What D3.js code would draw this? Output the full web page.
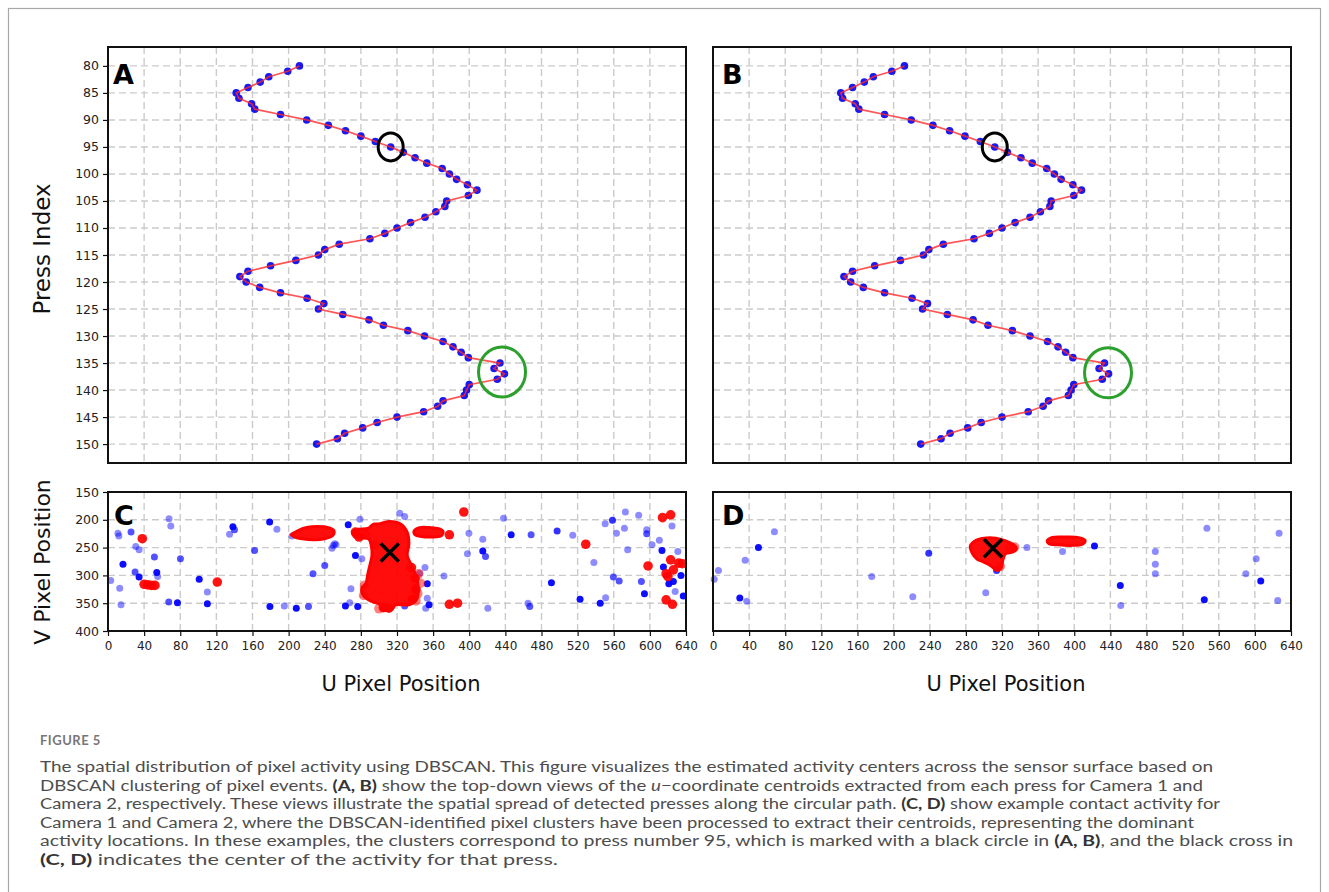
<!DOCTYPE html>
<html><head><meta charset="utf-8">
<script src="https://cdn.jsdelivr.net/npm/d3@7"></script>
<style>
body{margin:0;background:#fff;}
svg{display:block;}
</style></head>
<body>
<svg id="chart" width="1329" height="892"></svg>
<script>
// ================= DATA =================
const pressIndex = [80,81,82,83,84,85,86,87,88,89,90,91,92,93,94,95,96,97,98,99,100,101,102,103,104,105,106,107,108,109,110,111,112,113,114,115,116,117,118,119,120,121,122,123,124,125,126,127,128,129,130,131,132,133,134,135,136,137,138,139,140,141,142,143,144,145,146,147,148,149,150];
// u-coordinate centroids per press, Camera 1 (panel A)
const uCam1 = [212,199,178,168.5,155,142,145,159,162.5,191,220,244,263,280,296,313,327,340,353,370,378,386,398,408.5,399,375,373,363,351,335,320,306.5,290,256,240,233,208,180,155,146,153,168,191,220.5,239,233,260,289,305,332,350.5,371,382,391,399,434,427.5,439,431,400,397,394.5,371,365,349.5,320,298,282,262,254,231];
// u-coordinate centroids per press, Camera 2 (panel B)
const uCam2 = [212,198,177.5,167.5,154.5,141.5,143.5,157.5,161.5,190,219.5,243.5,262,279,296,312,326,341,353.5,369.5,378,385.5,398.5,408,399.5,374.5,373,362.5,351,334.5,320,306,289,255,239,233,207.5,179,154.5,145,152.5,166.5,190,220.5,237.5,232,259.5,288,304.5,331.5,351,370.5,382,390.5,398.5,433.5,427.5,438,431,399.5,396.5,393.5,371.5,365.5,349,320,297,282,262.5,252.5,230];

const pressTicks = [80,85,90,95,100,105,110,115,120,125,130,135,140,145,150];
const uTicks = [0,40,80,120,160,200,240,280,320,360,400,440,480,520,560,600,640];
const vTicks = [150,200,250,300,350,400];

// highlighted press 95 (black circle) and turning region (green circle)
const blackCircleA = [313, 95];
const blackCircleB = [312, 95];
const greenCircleA = [436.3, 136.65];
const greenCircleB = [437.4, 136.8];

// Panel C: noise events [u, v, strength]
const cBlue = [
 [67.6,198,0],[69.5,211,0],[11,224,0],[12,229,0],[25.5,222,0.5],[30.7,248,0],[34.4,254,0],[16.6,280,1],[30,294,0.5],[34.4,303,1],
 [54,295,1],[55,302,0],[51.4,267,0.5],[80.2,270,0.5],[3,309,0],[13,323,0],[14.4,353,0],[67.3,348,0.5],[76.9,349,1],[101,307,1],
 [110,330,0],[110,351,1],[138.3,212.6,1],[134.6,226,0],[140,218,0.5],[162.3,255,0.5],[179,204,1],[187,217,0],[179.3,356,1],[195.2,355,0],
 [208.5,359,1],[222,356,0.5],[203.7,229,0],[252.5,245,0],[248,251,0],[240,282,0.5],[227,297,0.5],[266,209,1],[274,264,1],[281,270,0],
 [279,199,0],[269,324,0],[267.6,349,0],[262.9,355,1],[276.5,356,1],[323,188,0],[328.5,194,0],[438,197,0],[399.6,224,0],[415,235,0],
 [415,256,1],[418,266,0.5],[398,261,0],[446.4,227,1],[468.5,227,0.5],[497.3,220,0.7],[514.6,228,0],[538,277,0],[558.6,201,0.7],[550.5,207,0],
 [572.9,186,0],[587.6,192,0],[563,224,0],[571.8,215,0],[596.5,218,0],[596.5,225,0.5],[602.4,245,0],[610.5,237,0],[613.4,255,1],[624.5,211,0],
 [631,257,0],[615,285,1],[634.4,300,1],[626,311,1],[621,315,1],[628,329,0],[637,337,1],[594,333,1],[590.6,311,0.5],[559.6,303,0.5],
 [566,310,0.5],[575.4,254,0],[491,313,1],[522.7,343,1],[545,350,1],[551,340,0],[465,350,0],[467,356,0.5],[420.6,359,0],[351,286,0],
 [345,296,0],[353.5,315,1],[372,301,0],[353.5,341,0],[355.5,353,1],[351.8,359,0],[328.5,355,0.5],[249.5,246,0],[251,243,0]
];
// Panel C: clustered (red) events
const cRed = [
 [38,234],[40,316],[44,317],[48,318],[52,318],[121,312],[394,186],[378,227],[529,244],[598,283],
 [614,196],[623,191],[623,272],[632,278],[636,279],[626,290],[618,297],[620,302],[618,344],[625,352],[378,352],[387,350],
 [305,358],[311,359],[274,222],[278,231],[336,286],[340,305],[341,325],[337,343]
];
const cRedFaint = [[344,297],[346,314],[343,333],[341,346],[296,245],[300,360],[285,226],[283,336],[284,318]];
// dense DBSCAN clusters in C (outlines)
const cBlobMain = [[299.7,207.7],[310.9,203],[323.9,207.7],[331.3,222.5],[333.2,243.3],[331.3,264],[336.9,284.8],[341.4,302.6],[343.6,326.3],[341.4,344],[333.2,353],[318.3,353],[314.6,360.7],[303.4,361.9],[301.6,353],[292.3,347],[283,337],[281,323],[285.6,314.4],[287.8,296.7],[290.4,278.9],[292.3,264],[291.5,246.3],[288.6,234.4],[273.7,231.4],[270.7,222.5],[275.5,217.8],[288.6,214.8],[294.1,207.7]];
const cClusterLeft = [[203,227],[210,220],[220,214],[232,212],[244,214],[250,219],[249,228],[240,234],[228,236],[215,234],[207,231]];
const cClusterRight = [[339,220],[345,214],[356,214],[366,216],[371,221],[369,229],[358,231],[347,230],[340,227]];
const cCross = [312, 259];

// Panel D
const dBlue = [
 [68,221.6,0],[50.3,249.8,1],[35.6,272.6,0],[6,291,0],[1.3,307,0],[29.7,340.6,1],[37.4,346.4,0],[175.8,302,0],[238.9,260,0.7],[221.2,338.6,0],
 [302,331,0],[314,291,0.7],[347.6,250,0],[387,257,0],[422.4,247,1],[451,318,1],[451.5,354,0],[489.8,257,0],[489.8,280,0],[489.8,297,0],
 [546.9,215,0],[544,344,1],[590,297,0],[601.4,270,0],[606.5,310,1],[626.8,224,0],[625.3,345,0]
];
const dRedFaint = [[328,250],[334,249],[318,284]];
const dBlob = [[285,247],[290,238],[300,233],[313,233],[324,238],[332,244],[336,251],[332,258],[324,261],[321,272],[319,287],[314,291],[308,283],[300,276],[292,270],[287,260]];
const dClusterRight = [[370,238],[375,232],[390,231],[405,232],[412,237],[409,244],[396,246],[382,245],[372,243]];
const dCross = [310, 251];

// ================= DRAWING =================
const svg = d3.select('#chart');
const FONT = 'DejaVu Sans, sans-serif';

const xL = d3.scaleLinear().domain([0,640]).range([108,686]);
const xR = d3.scaleLinear().domain([0,640]).range([713,1291]);
const yTop = d3.scaleLinear().domain([76.5,153.5]).range([47,463]);
const yBot = d3.scaleLinear().domain([150,400]).range([492,631]);

// outer border
svg.append('rect').attr('x',8.5).attr('y',8.5).attr('width',1312).attr('height',900)
  .attr('fill','none').attr('stroke','#a8a8a8').attr('stroke-width',1.2);

const gridU = uTicks.filter(d => d > 0 && d < 640);

function grid(g, x, y, yVals){
  g.selectAll('.gx').data(gridU).join('line')
    .attr('x1', d=>x(d)).attr('x2', d=>x(d))
    .attr('y1', y.range()[0]).attr('y2', y.range()[1])
    .attr('stroke','#cbcbcb').attr('stroke-width',1.4).attr('stroke-dasharray','7,4');
  g.selectAll('.gy').data(yVals).join('line')
    .attr('y1', d=>y(d)).attr('y2', d=>y(d))
    .attr('x1', x.range()[0]).attr('x2', x.range()[1])
    .attr('stroke','#cbcbcb').attr('stroke-width',1.4).attr('stroke-dasharray','7,4');
}
function frame(g, x, y){
  g.append('rect').attr('x', x.range()[0]).attr('y', y.range()[0])
   .attr('width', x.range()[1]-x.range()[0]).attr('height', y.range()[1]-y.range()[0])
   .attr('fill','none').attr('stroke','#111').attr('stroke-width',2);
}
function styleAxis(sel){
  sel.select('.domain').remove();
  sel.selectAll('.tick line').attr('stroke','#111').attr('stroke-width',1.2);
  sel.selectAll('.tick text').attr('font-family',FONT).attr('font-size',12.5).attr('fill','#222');
}
function letter(t, x, y){
  svg.append('text').attr('x',x).attr('y',y).text(t)
    .attr('font-family',FONT).attr('font-weight','bold').attr('font-size',27).attr('fill','#000');
}

// ---- Panels A & B ----
function pathPanel(x, uVals, circ, green){
  const g = svg.append('g');
  grid(g, x, yTop, pressTicks);
  const pts = pressIndex.map((p,i)=>[uVals[i], p]);
  g.selectAll('circle.pt').data(pts).join('circle').attr('class','pt')
    .attr('cx', d=>x(d[0])).attr('cy', d=>yTop(d[1])).attr('r',3.8)
    .attr('fill','#0000ee').attr('fill-opacity',0.9);
  const line = d3.line().x(d=>x(d[0])).y(d=>yTop(d[1]));
  g.append('path').attr('d', line(pts)).attr('fill','none')
    .attr('stroke','#ff2a2a').attr('stroke-opacity',0.8).attr('stroke-width',1.7);
  g.append('ellipse').attr('cx', x(circ[0])).attr('cy', yTop(circ[1])).attr('rx',12.5).attr('ry',14)
    .attr('fill','none').attr('stroke','#000').attr('stroke-width',3);
  g.append('ellipse').attr('cx', x(green[0])).attr('cy', yTop(green[1])).attr('rx',23.5).attr('ry',25)
    .attr('fill','none').attr('stroke','#2ca02c').attr('stroke-width',3);
  frame(g, x, yTop);
  return g;
}
pathPanel(xL, uCam1, blackCircleA, greenCircleA);
pathPanel(xR, uCam2, blackCircleB, greenCircleB);
svg.append('g').attr('transform','translate(108,0)')
  .call(d3.axisLeft(yTop).tickValues(pressTicks).tickSize(5).tickPadding(4)).call(styleAxis);

// ---- Panels C & D ----
const op = a => a >= 1 ? 0.95 : a >= 0.7 ? 0.8 : a >= 0.5 ? 0.68 : 0.45;
function eventPanel(x, blue, red, faint, polys, cross){
  const g = svg.append('g');
  grid(g, x, yBot, vTicks.filter(d=>d>150 && d<400));
  g.selectAll('circle.b').data(blue).join('circle').attr('class','b')
    .attr('cx', d=>x(d[0])).attr('cy', d=>yBot(d[1])).attr('r',3.5)
    .attr('fill','#0000ff').attr('fill-opacity', d=>op(d[2]));
  const area = d3.line().x(d=>x(d[0])).y(d=>yBot(d[1])).curve(d3.curveCatmullRomClosed);
  g.selectAll('circle.f').data(faint).join('circle').attr('class','f')
    .attr('cx', d=>x(d[0])).attr('cy', d=>yBot(d[1])).attr('r',4.8)
    .attr('fill','#ff0000').attr('fill-opacity',0.5);
  polys.forEach(p=>{
    g.append('path').attr('d', area(p)).attr('fill','#ff0000').attr('fill-opacity',0.95)
      .attr('stroke','#ff0000').attr('stroke-width',3).attr('stroke-linejoin','round');
  });
  g.selectAll('circle.r').data(red).join('circle').attr('class','r')
    .attr('cx', d=>x(d[0])).attr('cy', d=>yBot(d[1])).attr('r',4.8)
    .attr('fill','#ff0000').attr('fill-opacity',0.92);
  const cx = x(cross[0]), cy = yBot(cross[1]), s = 9;
  g.append('path').attr('d', `M${cx-s},${cy-s}L${cx+s},${cy+s}M${cx-s},${cy+s}L${cx+s},${cy-s}`)
    .attr('stroke','#000').attr('stroke-width',3.5);
  frame(g, x, yBot);
  g.append('g').attr('transform','translate(0,631)')
    .call(d3.axisBottom(x).tickValues(uTicks).tickSize(5).tickPadding(5)).call(styleAxis)
    .selectAll('.tick text').attr('font-size',12);
  return g;
}
eventPanel(xL, cBlue, cRed, cRedFaint, [cBlobMain, cClusterLeft, cClusterRight], cCross);
eventPanel(xR, dBlue, [], dRedFaint, [dBlob, dClusterRight], dCross);
svg.append('g').attr('transform','translate(108,0)')
  .call(d3.axisLeft(yBot).tickValues(vTicks).tickSize(5).tickPadding(4)).call(styleAxis);

// panel letters
letter('A', 113, 84); letter('B', 722, 84); letter('C', 114, 525); letter('D', 722, 525);

// axis titles
svg.append('text').attr('transform','translate(50,249) rotate(-90)').attr('text-anchor','middle')
  .attr('font-family',FONT).attr('font-size',23).attr('fill','#111').text('Press Index');
svg.append('text').attr('transform','translate(50,562) rotate(-90)').attr('text-anchor','middle')
  .attr('font-family',FONT).attr('font-size',22).attr('fill','#111').text('V Pixel Position');
[[401,'U Pixel Position'],[1006,'U Pixel Position']].forEach(([x,t])=>{
  svg.append('text').attr('x',x).attr('y',691).attr('text-anchor','middle')
    .attr('font-family',FONT).attr('font-size',21).attr('fill','#111').text(t);
});

// ---- caption ----
const CAPF = 'Lato, "Open Sans", sans-serif';
svg.append('text').attr('x',40).attr('y',745).attr('font-family',CAPF).attr('font-weight','bold')
  .attr('font-size',13).attr('letter-spacing',0.5).attr('fill','#777').text('FIGURE 5');
const capLines = [
  {end:1213, parts:[['The spatial distribution of pixel activity using DBSCAN. This figure visualizes the estimated activity centers across the sensor surface based on','n']]},
  {end:1203, parts:[['DBSCAN clustering of pixel events. ','n'],['(A, B)','b'],[' show the top-down views of the ','n'],['u','i'],['\u2212coordinate centroids extracted from each press for Camera 1 and','n']]},
  {end:1220, parts:[['Camera 2, respectively. These views illustrate the spatial spread of detected presses along the circular path. ','n'],['(C, D)','b'],[' show example contact activity for','n']]},
  {end:1194, parts:[['Camera 1 and Camera 2, where the DBSCAN-identified pixel clusters have been processed to extract their centroids, representing the dominant','n']]},
  {end:1293, parts:[['activity locations. In these examples, the clusters correspond to press number 95, which is marked with a black circle in ','n'],['(A, B)','b'],[', and the black cross in','n']]},
  {end:558, parts:[['(C, D)','b'],[' indicates the center of the activity for that press.','n']]}
];
capLines.forEach((ln,i)=>{
  const t = svg.append('text').attr('x',40).attr('y',772 + i*18.6)
    .attr('font-family',CAPF).attr('font-size',15.5).attr('fill','#4d4d4d')
    .attr('textLength', ln.end-40).attr('lengthAdjust','spacingAndGlyphs');
  ln.parts.forEach(([s,k])=>{
    const ts = t.append('tspan').text(s);
    if(k==='b') ts.attr('font-weight','bold').attr('fill','#333');
    if(k==='i') ts.attr('font-style','italic');
  });
});
</script>
</body></html>
